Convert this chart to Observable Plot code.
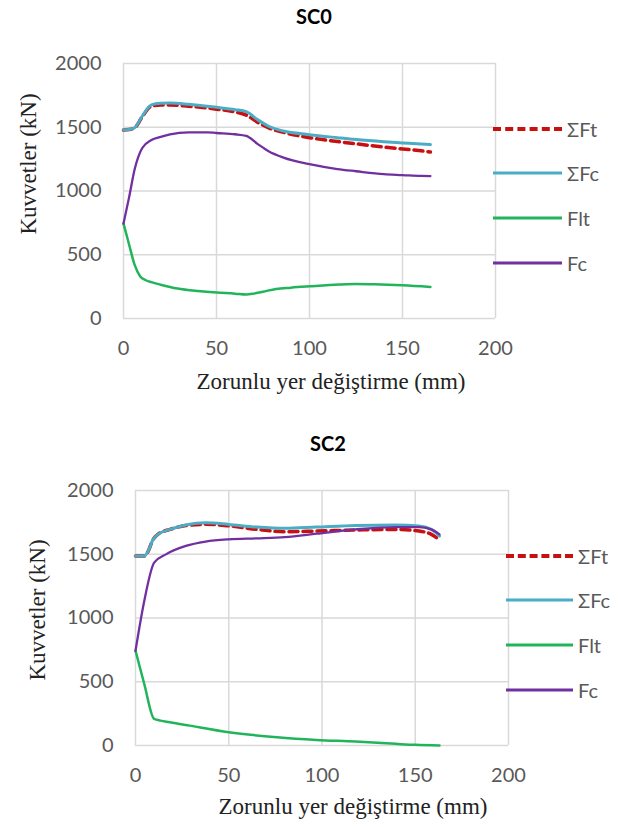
<!DOCTYPE html>
<html><head><meta charset="utf-8">
<script src="https://cdn.jsdelivr.net/npm/d3@7"></script>
<script src="https://cdn.jsdelivr.net/npm/@observablehq/plot@0.6"></script>
<style>
body{margin:0;background:#fff;}
#root{position:relative;width:618px;height:827px;overflow:hidden;background:#fff;}
.abs{position:absolute;white-space:nowrap;}
.title{font-family:Lato,sans-serif;font-weight:bold;font-size:20px;color:#000;transform:translate(-50%,-50%);}
.xt{font-family:"Liberation Serif",serif;font-size:23px;color:#222;transform:translate(-50%,-50%);}
.yt{font-family:"Liberation Serif",serif;font-size:23px;color:#222;transform:translate(-50%,-50%) rotate(-90deg);}
.lgl{height:0;transform:translateY(-50%);}
.lgt{font-family:Lato,sans-serif;font-size:20px;color:#595959;transform:translateY(-50%);}
svg{position:absolute;}
</style></head><body><div id="root"></div>
<script>
const seriesNames = ["ΣFt", "ΣFc", "Flt", "Fc"];
const seriesColors = ["#c81010", "#4bacc6", "#22b45a", "#7030a0"];
const xTicks = [0, 50, 100, 150, 200];
const yTicks = [0, 500, 1000, 1500, 2000];

// SC0 panel: [displacement mm, force kN]
const sc0_Ft = [[0,1478],[3,1482],[6,1495],[10,1580],[15,1665],[20,1675],[25,1675],[35,1665],[50,1642],[60,1620],[66,1595],[72,1540],[78,1495],[86,1460],[100,1418],[115,1388],[125,1370],[140,1345],[150,1330],[160,1315],[165,1306]];
const sc0_Fc_sum = [[0,1480],[3,1482],[6,1496],[10,1585],[15,1675],[20,1688],[25,1690],[35,1680],[50,1656],[60,1638],[66,1622],[72,1560],[78,1508],[86,1470],[100,1442],[115,1418],[125,1403],[140,1386],[150,1377],[160,1368],[165,1364]];
const sc0_Flt = [[0,745],[3,580],[6,420],[9,330],[12,300],[15,285],[20,265],[29,235],[40,215],[50,203],[60,195],[66,188],[70,195],[75,210],[82,232],[90,242],[100,252],[116,266],[125,270],[135,268],[150,260],[165,247]];
const sc0_Fc = [[0,745],[3,950],[6,1170],[10,1335],[15,1400],[20,1425],[25,1445],[35,1460],[45,1460],[50,1455],[60,1445],[66,1432],[72,1370],[78,1312],[86,1262],[100,1210],[115,1172],[125,1155],[140,1132],[150,1125],[160,1118],[165,1117]];

// SC2 panel
const sc2_Ft = [[0,1486],[4.7,1486],[7,1530],[9,1604],[12,1656],[18.5,1695],[27,1725],[37.6,1735],[50,1723],[65,1695],[80,1677],[97,1682],[118,1690],[139.5,1695],[152,1682],[158.6,1656],[163.3,1609]];
const sc2_Fc_sum = [[0,1486],[4.7,1486],[7,1530],[9,1604],[12,1656],[18.5,1695],[27,1729],[37.6,1747],[50,1734],[65,1713],[80,1703],[97,1713],[118,1726],[139.5,1729],[152,1721],[158.6,1695],[163,1643]];
const sc2_Flt = [[0,743],[4.7,482],[10,209],[18.5,183],[29,156],[50,104],[75.8,65],[97,44],[118,31],[139.5,13],[150,5],[163,0]];
const sc2_Fc = [[0,743],[4.7,1134],[10,1434],[16.3,1499],[27,1565],[37.6,1599],[50,1617],[65,1625],[80,1635],[97,1661],[118,1695],[139.5,1713],[152,1713],[158.6,1695],[163,1656]];

const xLabel = "Zorunlu yer değiştirme (mm)";
const yLabel = "Kuvvetler (kN)";

const root = document.getElementById("root");

function addDiv(cls, text, left, top) {
  const d = document.createElement("div");
  d.className = "abs " + cls;
  d.textContent = text;
  d.style.left = left + "px";
  d.style.top = top + "px";
  root.appendChild(d);
  return d;
}

function panel(cfg) {
  const series = cfg.series;
  const styles = [
    {strokeWidth: 3.5, strokeDasharray: "9,5"},
    {strokeWidth: 3},
    {strokeWidth: 2.5},
    {strokeWidth: 2.3}
  ];
  const marks = [
    Plot.gridX(xTicks, {stroke: "#d9d9d9", strokeOpacity: 1, strokeWidth: 1.5}),
    Plot.gridY(yTicks, {stroke: "#d9d9d9", strokeOpacity: 1, strokeWidth: 1.5}),
    Plot.axisX(xTicks, {tickSize: 0, tickPadding: 22, fontSize: 20, fill: "#595959", label: null}),
    Plot.axisY(yTicks, {tickSize: 0, tickPadding: 22, fontSize: 20, fill: "#595959", label: null, tickFormat: d => String(d)})
  ];
  series.forEach((pts, i) => {
    marks.push(Plot.line(pts, {x: d => d[0], y: d => d[1], stroke: seriesColors[i], curve: "monotone-x", ...styles[i]}));
  });
  const svg = Plot.plot({
    width: 618, height: 400,
    marginTop: 63, marginBottom: 82, marginLeft: cfg.ml, marginRight: 618 - cfg.mr,
    x: {domain: [0, 200]},
    y: {domain: [0, 2000]},
    style: {fontFamily: "Lato, sans-serif", background: "transparent", overflow: "visible"},
    marks
  });
  svg.style.left = "0px";
  svg.style.top = cfg.top + "px";
  root.appendChild(svg);

  addDiv("title", cfg.title, cfg.titleX, cfg.top + cfg.titleY);
  addDiv("xt", xLabel, cfg.xtX, cfg.top + cfg.xtY);
  addDiv("yt", yLabel, cfg.ytX, cfg.top + cfg.ytY);

  seriesNames.forEach((name, i) => {
    const y = cfg.top + cfg.legY[i];
    const l = document.createElement("div");
    l.className = "abs lgl";
    l.style.left = cfg.legX0 + "px";
    l.style.top = y + "px";
    l.style.width = (cfg.legX1 - cfg.legX0) + "px";
    l.style.borderTop = (i === 0 ? "4px dashed " : "3px solid ") + seriesColors[i];
    root.appendChild(l);
    addDiv("lgt", name, cfg.legX1 + 5, y);
  });
}

panel({
  title: "SC0", top: 0, ml: 123, mr: 495,
  series: [sc0_Ft, sc0_Fc_sum, sc0_Flt, sc0_Fc],
  titleX: 314, titleY: 16,
  xtX: 331, xtY: 382,
  ytX: 29, ytY: 164,
  legX0: 493, legX1: 562, legY: [129, 173, 218, 263]
});
panel({
  title: "SC2", top: 427, ml: 135, mr: 508,
  series: [sc2_Ft, sc2_Fc_sum, sc2_Flt, sc2_Fc],
  titleX: 328, titleY: 16,
  xtX: 353, xtY: 380,
  ytX: 38, ytY: 183,
  legX0: 506, legX1: 573, legY: [129, 173, 218, 263]
});
</script>
</body></html>
